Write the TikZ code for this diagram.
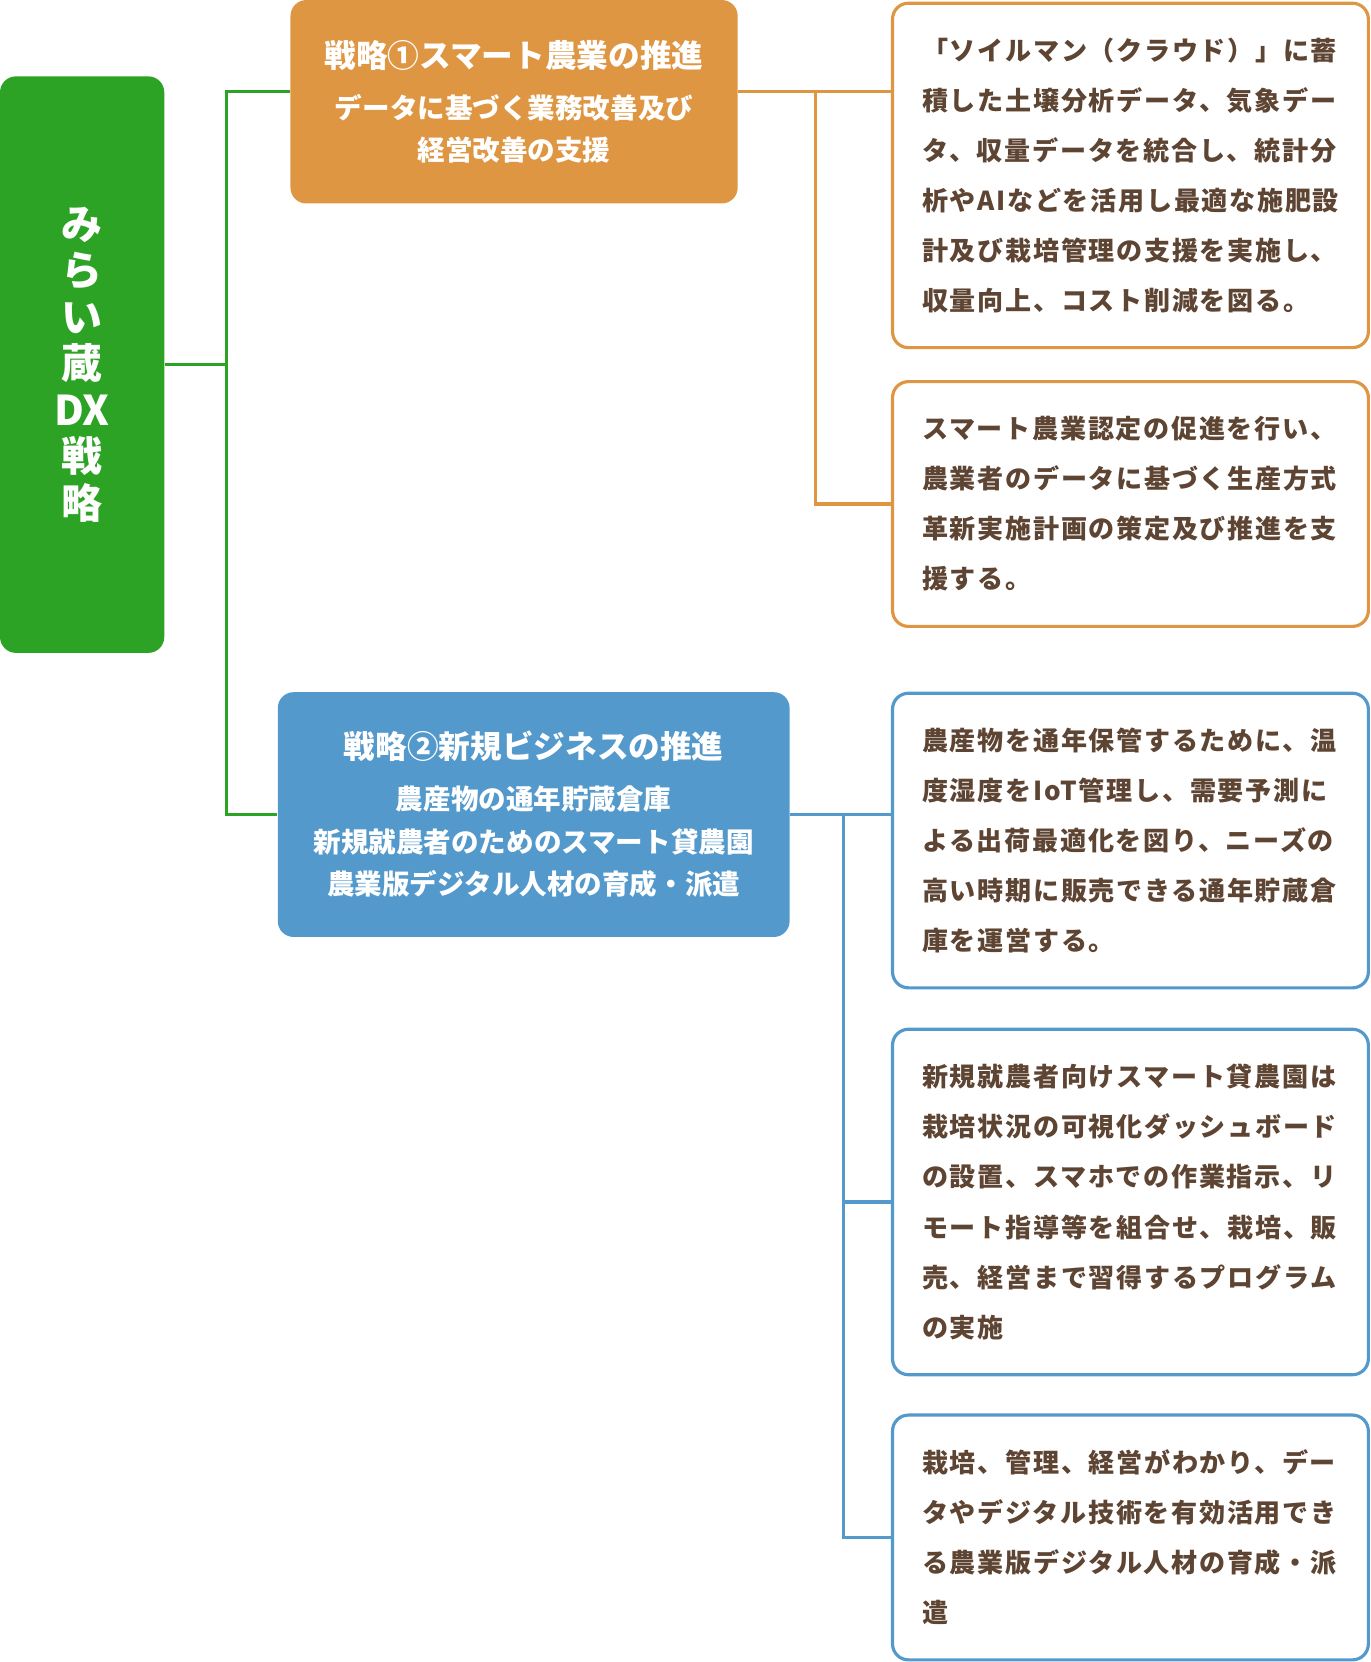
\documentclass[tikz,border=0pt]{standalone}
\usepackage{fontspec}
\setmainfont{Noto Sans CJK JP}
\newfontfamily\bodyfont{Noto Sans CJK JP}[LetterSpace=6.5]
\definecolor{dxgreen}{HTML}{2CA324}
\definecolor{dxorange}{HTML}{DF9643}
\definecolor{dxblue}{HTML}{5399CC}
\definecolor{dxbrown}{HTML}{5E4432}
\tikzset{
  root/.style={fill=dxgreen, rounded corners=0.3cm, text=white, inner sep=0pt,
    minimum width=3.1cm, minimum height=10.88cm, align=center,
    font=\fontsize{22pt}{25pt}\selectfont\bfseries},
  strat/.style={fill=#1, rounded corners=0.3cm, text=white, inner sep=0pt, align=center,
    font=\fontsize{14.8pt}{22.8pt}\selectfont\bfseries},
  detail/.style={draw=#1, line width=1.7pt, rounded corners=0.3cm, fill=white, text=dxbrown,
    inner sep=0pt, minimum width=8.98cm, text width=7.86cm, align=left,
    font=\bodyfont\fontsize{14pt}{26.86pt}\selectfont\bfseries},
  branch/.style={draw=#1, line width=1.7pt},
}
\newcommand{\strattitle}[1]{{\fontsize{17pt}{22.8pt}\selectfont #1}}
\begin{document}
\begin{tikzpicture}[x=0.02cm, y=-0.02cm]
        \useasboundingbox (0,0) rectangle (1293,1568);
        % root
        \node[root] (dx) at (77.5,344) {み\\ら\\い\\蔵\\DX\\戦\\略};
        % strategies
        \node[strat=dxorange, minimum width=8.44cm, minimum height=3.84cm] (s1) at (485,96)
            {\strattitle{戦略①スマート農業の推進}\\[4.6pt]データに基づく業務改善及び\\経営改善の支援};
        \node[strat=dxblue, minimum width=9.66cm, minimum height=4.62cm] (s2) at (503.5,768.5)
            {\strattitle{戦略②新規ビジネスの推進}\\[4.6pt]農産物の通年貯蔵倉庫\\新規就農者のためのスマート貸農園\\農業版デジタル人材の育成・派遣};
        % details
        \node[detail=dxorange, minimum height=6.5cm] (a1) at (1066.5,165.5)
            {「ソイルマン（クラウド）」に蓄\\積した土壌分析データ、気象デー\\タ、収量データを統合し、統計分\\析やAIなどを活用し最適な施肥設\\計及び栽培管理の支援を実施し、\\収量向上、コスト削減を図る。};
        \node[detail=dxorange, minimum height=4.62cm] (a2) at (1066.5,475.5)
            {スマート農業認定の促進を行い、\\農業者のデータに基づく生産方式\\革新実施計画の策定及び推進を支\\援する。};
        \node[detail=dxblue, minimum height=5.56cm] (b1) at (1066.5,793)
            {農産物を通年保管するために、温\\度湿度をIoT管理し、需要予測に\\よる出荷最適化を図り、ニーズの\\高い時期に販売できる通年貯蔵倉\\庫を運営する。};
        \node[detail=dxblue, minimum height=6.52cm] (b2) at (1066.5,1134)
            {新規就農者向けスマート貸農園は\\栽培状況の可視化ダッシュボード\\の設置、スマホでの作業指示、リ\\モート指導等を組合せ、栽培、販\\売、経営まで習得するプログラム\\の実施};
        \node[detail=dxblue, minimum height=4.62cm] (b3) at (1066.5,1450.5)
            {栽培、管理、経営がわかり、デー\\タやデジタル技術を有効活用でき\\る農業版デジタル人材の育成・派\\遣};
        % trunks
        \coordinate (gt) at (214,0);
        \coordinate (ot) at (769,0);
        \coordinate (bt) at (796,0);
        \coordinate (s1w) at ([yshift=0.2cm]s1.west);
        \coordinate (s1e) at ([yshift=0.2cm]s1.east);
        % green branch
        \draw[branch=dxgreen] (dx.east) -- (dx.east -| gt);
        \draw[branch=dxgreen] (s1w) -- (s1w -| gt) -- (s2.west -| gt) -- (s2.west);
        % orange branch
        \draw[branch=dxorange] (s1e) -- (s1e -| a1.west);
        \draw[branch=dxorange] (s1e -| ot) -- (a2.west -| ot) -- (a2.west);
        % blue branch
        \draw[branch=dxblue] (s2.east) -- (s2.east -| b1.west);
        \draw[branch=dxblue] (s2.east -| bt) -- (b3.west -| bt) -- (b3.west);
        \draw[branch=dxblue] (b2.west -| bt) -- (b2.west);
    \end{tikzpicture}
\end{document}
